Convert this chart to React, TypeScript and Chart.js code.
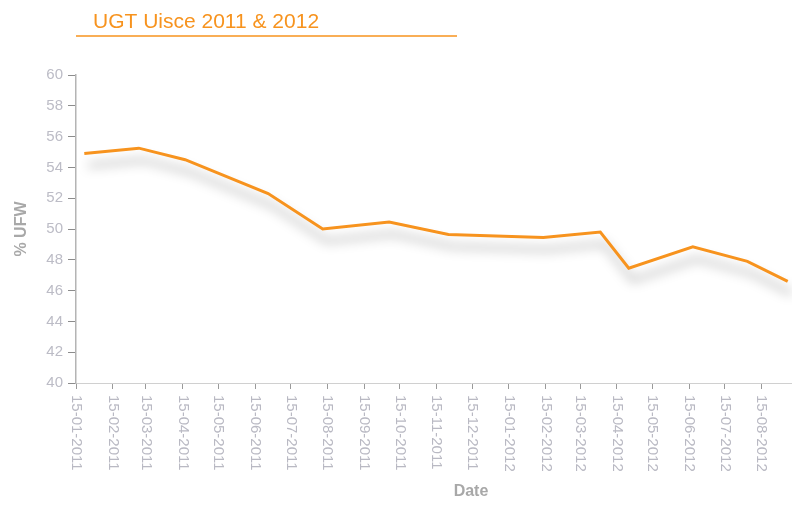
import React, { useEffect, useRef } from "react";
import { Chart, registerables } from "chart.js";

Chart.register(...registerables);

const chartTitle = "UGT Uisce 2011 & 2012";
const yAxisTitle = "% UFW";
const xAxisTitle = "Date";

const tickLabels = [
  "15-01-2011", "15-02-2011", "15-03-2011", "15-04-2011", "15-05-2011",
  "15-06-2011", "15-07-2011", "15-08-2011", "15-09-2011", "15-10-2011",
  "15-11-2011", "15-12-2011", "15-01-2012", "15-02-2012", "15-03-2012",
  "15-04-2012", "15-05-2012", "15-06-2012", "15-07-2012", "15-08-2012",
];

const pointDates = [
  "22-01-2011", "09-03-2011", "17-04-2011", "26-06-2011", "11-08-2011",
  "06-10-2011", "25-11-2011", "13-02-2012", "01-04-2012", "25-04-2012",
  "18-06-2012", "03-08-2012", "06-09-2012",
];

const ufwValues = [
  54.9, 55.25, 54.5, 52.3, 50.0,
  50.45, 49.65, 49.45, 49.8, 47.45,
  48.85, 47.9, 46.6,
];

const axisStart = "15-01-2011";
const axisEnd = "11-11-2012";
const yMin = 40;
const yMax = 60;
const yStep = 2;

const FONT = "'Liberation Sans', Arial, Helvetica, sans-serif";
const ORANGE = "#f7931e";

function toDay(s: string): number {
  const [d, m, y] = s.split("-").map(Number);
  const [d0, m0, y0] = axisStart.split("-").map(Number);
  return (Date.UTC(y, m - 1, d) - Date.UTC(y0, m0 - 1, d0)) / 86400000;
}

export default function App() {
  const ref = useRef<HTMLCanvasElement | null>(null);

  useEffect(() => {
    document.body.style.margin = "0";
    document.body.style.overflow = "hidden";
    const canvas = ref.current;
    if (!canvas) return;

    const titlePlugin = {
      id: "titleLine",
      afterDraw(chart: any) {
        const ctx = chart.ctx;
        const area = chart.chartArea;
        ctx.save();
        ctx.fillStyle = ORANGE;
        ctx.font = `21px ${FONT}`;
        ctx.textAlign = "left";
        ctx.textBaseline = "alphabetic";
        ctx.fillText(chartTitle, area.left + 17, 28);
        ctx.strokeStyle = ORANGE;
        ctx.lineWidth = 1.5;
        ctx.beginPath();
        ctx.moveTo(area.left, 36);
        ctx.lineTo(area.left + 381, 36);
        ctx.stroke();
        ctx.restore();
      },
    };

    const xLabelPlugin = {
      id: "xLabels",
      afterDraw(chart: any) {
        const ctx = chart.ctx;
        const xs = chart.scales.x;
        ctx.save();
        ctx.fillStyle = "#b9b9c3";
        ctx.font = `15px ${FONT}`;
        ctx.textAlign = "left";
        ctx.textBaseline = "middle";
        tickLabels.forEach((lab) => {
          const px = xs.getPixelForValue(toDay(lab));
          ctx.save();
          ctx.translate(px, xs.top + 12);
          ctx.rotate(Math.PI / 2);
          ctx.fillText(lab, 0, 0);
          ctx.restore();
        });
        ctx.restore();
      },
    };

    const shadowPlugin = {
      id: "lineShadow",
      beforeDatasetsDraw(chart: any) {
        const ctx = chart.ctx;
        ctx.save();
        ctx.shadowColor = "rgba(0,0,0,0.38)";
        ctx.shadowBlur = 12;
        ctx.shadowOffsetX = 4;
        ctx.shadowOffsetY = 12;
      },
      afterDatasetsDraw(chart: any) {
        chart.ctx.restore();
      },
    };

    const chart = new Chart(canvas, {
      type: "line",
      data: {
        datasets: [
          {
            label: yAxisTitle,
            data: pointDates.map((d, i) => ({ x: toDay(d), y: ufwValues[i] })),
            borderColor: ORANGE,
            borderWidth: 3,
            pointRadius: 0,
            tension: 0,
            fill: false,
          },
        ],
      },
      options: {
        animation: false,
        responsive: false,
        layout: { padding: { top: 75, left: 0, right: 0, bottom: 0 } },
        plugins: {
          legend: { display: false },
          tooltip: { enabled: false },
          title: { display: false },
        },
        scales: {
          x: {
            type: "linear",
            min: 0,
            max: toDay(axisEnd),
            afterBuildTicks: (s: any) => {
              s.ticks = tickLabels.map((l) => ({ value: toDay(l) }));
            },
            afterFit: (s: any) => {
              s.height = 128;
            },
            ticks: { display: false },
            grid: {
              drawOnChartArea: false,
              drawTicks: true,
              tickLength: 6,
              color: "#9a9a9a",
            },
            border: { display: true, color: "#d0d0d0", width: 1 },
            title: {
              display: true,
              text: xAxisTitle,
              color: "#a8a8a8",
              font: { family: FONT, size: 16, weight: "bold" },
              padding: { top: 0, bottom: 10 },
            },
          },
          y: {
            min: yMin,
            max: yMax,
            afterFit: (s: any) => {
              s.width = 76;
            },
            ticks: {
              stepSize: yStep,
              color: "#bcbcc6",
              font: { family: FONT, size: 15 },
              padding: 5,
            },
            grid: {
              drawOnChartArea: false,
              drawTicks: true,
              tickLength: 8,
              color: "#8c8c8c",
            },
            border: { display: true, color: "#b4b4b4", width: 1.5 },
            title: {
              display: true,
              text: yAxisTitle,
              color: "#a8a8a8",
              font: { family: FONT, size: 16, weight: "bold" },
              padding: { top: 12, bottom: 0 },
            },
          },
        },
      },
      plugins: [shadowPlugin, titlePlugin, xLabelPlugin],
    } as any);

    return () => chart.destroy();
  }, []);

  return (
    <div style={{ width: 792, height: 511, overflow: "hidden", position: "relative" }}>
      <canvas ref={ref} width={866} height={511} style={{ display: "block" }} />
    </div>
  );
}
